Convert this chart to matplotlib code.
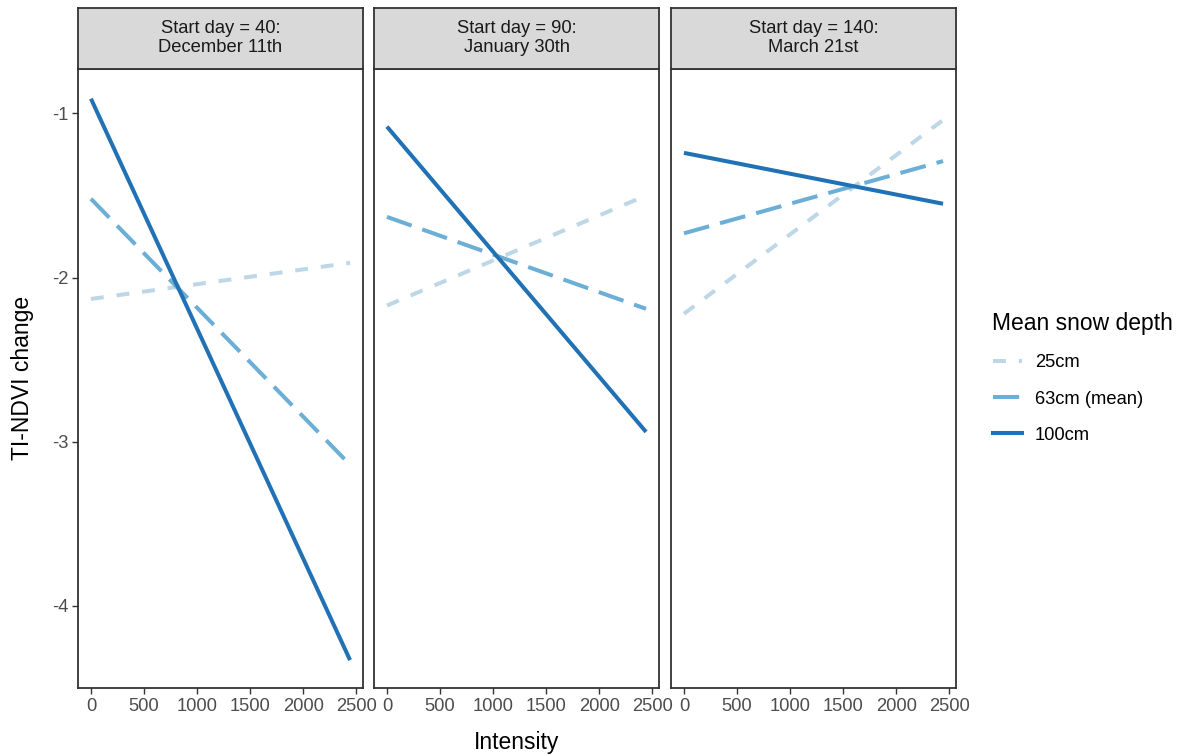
import matplotlib.pyplot as plt
from matplotlib.lines import Line2D

plt.rcParams["font.family"] = ["Liberation Sans", "DejaVu Sans"]
plt.rcParams["axes.unicode_minus"] = False

# facet titles
strip_labels = ["Start day = 40:\nDecember 11th",
                "Start day = 90:\nJanuary 30th",
                "Start day = 140:\nMarch 21st"]

# intensity range covered by the fitted lines
intensity = [0, 2440]

# predicted TI-NDVI change at both ends of intensity, one list per facet
depth_25 = [[-2.13, -1.91], [-2.17, -1.50], [-2.22, -1.04]]
depth_63 = [[-1.52, -3.14], [-1.63, -2.19], [-1.73, -1.29]]
depth_100 = [[-0.91, -4.33], [-1.08, -2.94], [-1.24, -1.55]]

series_labels = ["25cm", "63cm (mean)", "100cm"]
colors = ["#bdd7e7", "#6baed6", "#2171b5"]
dash_styles = [(3.2, 3.2), (6.5, 2.8), None]

x_ticks = [0, 500, 1000, 1500, 2000, 2500]
y_ticks = [-1, -2, -3, -4]

W, H = 1189, 756
fig = plt.figure(figsize=(W / 100, H / 100), dpi=100)

panel_left = [78, 374, 671]
panel_w = 285
panel_top, panel_bot = 68.5, 688
strip_top = 8
lw = 2.9
edge = "#333333"
tick_col = "#4d4d4d"

for i in range(3):
    ax = fig.add_axes([panel_left[i] / W, 1 - panel_bot / H,
                       panel_w / W, (panel_bot - panel_top) / H])
    for vals, col, ds in zip([depth_25[i], depth_63[i], depth_100[i]], colors, dash_styles):
        line, = ax.plot(intensity, vals, color=col, lw=lw, solid_capstyle="butt")
        if ds is not None:
            line.set_dashes(ds)
            line.set_dash_capstyle("butt")
    ax.set_xlim(-122, 2562)
    ax.set_ylim(-4.50, -0.726)
    ax.set_xticks(x_ticks)
    ax.set_yticks(y_ticks)
    ax.tick_params(colors=edge, labelcolor=tick_col, labelsize=13.2,
                   length=4, width=1, pad=3)
    if i > 0:
        ax.tick_params(axis="y", left=False, labelleft=False)
    for sp in ax.spines.values():
        sp.set_color(edge)
        sp.set_linewidth(1.3)

    sax = fig.add_axes([panel_left[i] / W, 1 - panel_top / H,
                        panel_w / W, (panel_top - strip_top) / H])
    sax.set_facecolor("#d9d9d9")
    sax.set_xticks([])
    sax.set_yticks([])
    for sp in sax.spines.values():
        sp.set_color(edge)
        sp.set_linewidth(1.3)
    sax.text(0.5, 0.5, strip_labels[i], ha="center", va="center",
             fontsize=13.2, color="#1a1a1a", linespacing=1.15,
             transform=sax.transAxes)

fig.text(517 / W, 1 - 742 / H, "Intensity", ha="center", va="center", fontsize=16.5)
fig.text(23 / W, 1 - 378 / H, "TI-NDVI change", ha="center", va="center",
         rotation=90, fontsize=16.5)

handles = []
for col, ds in zip(colors, dash_styles):
    h = Line2D([0], [0], color=col, lw=lw)
    if ds is not None:
        h.set_dashes(ds)
    handles.append(h)

leg = fig.legend(handles, series_labels, title="Mean snow depth",
                 loc="center left", bbox_to_anchor=(976 / W, 1 - 378 / H),
                 frameon=False, fontsize=13.2, title_fontsize=16.5,
                 alignment="left", handlelength=1.6, handletextpad=0.7,
                 labelspacing=1.05)

fig.savefig("out.png", dpi=100)
